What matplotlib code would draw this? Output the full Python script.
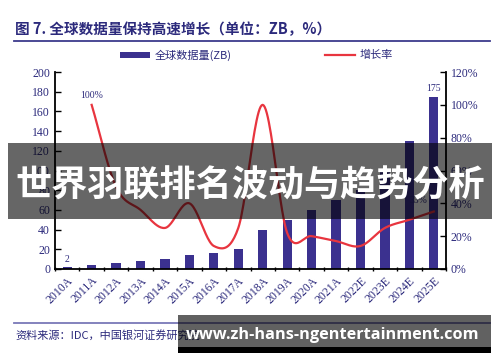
import numpy as np
import matplotlib.pyplot as plt
from matplotlib.patches import Rectangle
from matplotlib.lines import Line2D

plt.rcParams['font.family'] = ['Noto Sans CJK SC', 'DejaVu Sans']

years = ['2010A', '2011A', '2012A', '2013A', '2014A', '2015A', '2016A', '2017A',
         '2018A', '2019A', '2020A', '2021A', '2022E', '2023E', '2024E', '2025E']
volume = [2, 4, 6, 8, 10, 14, 16, 20, 40, 50, 60, 70, 80, 100, 130, 175]
growth = [None, 1.00, 0.50, 0.36, 0.25, 0.40, 0.14, 0.25, 1.00, 0.22, 0.20, 0.17, 0.14, 0.25, 0.30, 0.35]

left_ticks = [0, 20, 40, 60, 80, 100, 120, 140, 160, 180, 200]
right_ticks = [0, 0.2, 0.4, 0.6, 0.8, 1.0, 1.2]
right_labels = ['0%', '20%', '40%', '60%', '80%', '100%', '120%']

title = '图 7. 全球数据量保持高速增长（单位：ZB，%）'
source = '资料来源：IDC，中国银河证券研究院'
banner = '世界羽联排名波动与趋势分析'
watermark = 'www.zh-hans-ngentertainment.com'

NAVY = '#2c2a7c'
BAR = '#3b318f'
RED = '#e8353f'
SERIF = 'Liberation Serif'


def smooth(xs, ys, n=24):
    # Catmull-Rom curve through the points, like Excel's smoothed line
    xs = np.asarray(xs, float)
    ys = np.asarray(ys, float)
    px = np.concatenate([[2 * xs[0] - xs[1]], xs, [2 * xs[-1] - xs[-2]]])
    py = np.concatenate([[2 * ys[0] - ys[1]], ys, [2 * ys[-1] - ys[-2]]])
    ox, oy = [], []
    t = np.linspace(0, 1, n, endpoint=False)
    for i in range(1, len(px) - 2):
        for p, out in ((px, ox), (py, oy)):
            p0, p1, p2, p3 = p[i - 1], p[i], p[i + 1], p[i + 2]
            out.extend(0.5 * (2 * p1 + (-p0 + p2) * t
                              + (2 * p0 - 5 * p1 + 4 * p2 - p3) * t ** 2
                              + (-p0 + 3 * p1 - 3 * p2 + p3) * t ** 3))
    ox.append(xs[-1])
    oy.append(ys[-1])
    return np.array(ox), np.array(oy)


fig = plt.figure(figsize=(5, 3.62), dpi=100)
ax = fig.add_axes([0.11, 0.257, 0.782, 0.544])
x = np.arange(len(years))

ax.bar(x, volume, width=0.38, color=BAR, zorder=2)
ax.set_xlim(-0.5, len(years) - 0.5)
ax.set_ylim(0, 200)
ax.set_yticks(left_ticks)
ax.set_xticks(x)
ax.set_xticklabels(years, rotation=45, ha='right', rotation_mode='anchor',
                   fontsize=8.5, color=NAVY, family=SERIF)
ax.set_xticks(np.arange(-0.5, len(years)), minor=True)
ax.tick_params(axis='x', which='major', length=0, pad=4)
ax.tick_params(axis='x', which='minor', length=3, direction='inout', width=1)
ax.tick_params(axis='y', direction='in', length=4, width=1, labelsize=8.5, labelcolor=NAVY)
for lab in ax.get_yticklabels():
    lab.set_family(SERIF)
ax.spines['top'].set_visible(False)
ax.spines['right'].set_visible(False)
for s in ('left', 'bottom'):
    ax.spines[s].set_linewidth(1.3)

ax2 = ax.twinx()
gx = [i for i, g in enumerate(growth) if g is not None]
gy = [g for g in growth if g is not None]
sx, sy = smooth(gx, gy)
ax2.plot(sx, sy, color=RED, lw=1.6, zorder=3)
ax2.set_ylim(0, 1.2)
ax2.set_yticks(right_ticks)
ax2.set_yticklabels(right_labels, fontsize=8.5, color=NAVY, family=SERIF)
ax2.tick_params(axis='y', direction='in', length=4, width=1)
ax2.spines['top'].set_visible(False)
ax2.spines['left'].set_visible(False)
ax2.spines['right'].set_linewidth(1.3)
ax2.spines['bottom'].set_visible(False)

# data labels
ax.text(x[0], volume[0] + 3, str(volume[0]), ha='center', va='bottom',
        fontsize=7, color=NAVY, family=SERIF)
ax.text(x[-1], volume[-1] + 4, str(volume[-1]), ha='center', va='bottom',
        fontsize=7, color=NAVY, family=SERIF)
ax2.text(gx[0], gy[0] + 0.03, '{:.0%}'.format(gy[0]), ha='center', va='bottom',
         fontsize=7, color=NAVY, family=SERIF)
ax2.text(gx[-1] - 0.25, gy[-1] + 0.04, '{:.0%}'.format(gy[-1]), ha='right', va='bottom',
         fontsize=7, color=NAVY, family=SERIF)

# title, rules, legend
fig.text(0.03, 1 - 29 / 362, title, fontsize=10.5, fontweight='bold', color=NAVY, va='center')
fig.add_artist(Line2D([0.028, 0.98], [1 - 41 / 362] * 2, color='#3d3a8c', lw=1.3))
fig.add_artist(Rectangle((120 / 500, 1 - 57.5 / 362), 30 / 500, 5 / 362, color=BAR, lw=0))
fig.text(155 / 500, 1 - 55 / 362, '全球数据量(ZB)', fontsize=8, color=NAVY, va='center')
fig.add_artist(Line2D([325 / 500, 355 / 500], [1 - 55 / 362] * 2, color=RED, lw=1.6))
fig.text(360 / 500, 1 - 55 / 362, '增长率', fontsize=8, color=NAVY, va='center')
fig.add_artist(Line2D([0.028, 0.98], [1 - 323 / 362] * 2, color='#7a78b8', lw=1.3))
fig.text(0.03, 1 - 335 / 362, source, fontsize=8, color=NAVY, va='center', style='italic')

# overlay banner
fig.add_artist(Rectangle((8 / 500, 1 - 219 / 362), 484 / 500, 76 / 362,
                         color='black', alpha=0.6, lw=0, zorder=10))
fig.text(0.5, 1 - 186 / 362, banner, fontsize=26, fontweight='black', color='white',
         ha='center', va='center', zorder=11)

# watermark box with dark bottom strip
fig.add_artist(Rectangle((178 / 500, 1 - 347 / 362), 313 / 500, 32 / 362,
                         color='black', alpha=0.62, lw=0, zorder=10))
fig.add_artist(Rectangle((178 / 500, 1 - 353 / 362), 313 / 500, 6 / 362,
                         color='black', lw=0, zorder=10))
fig.text(333 / 500, 1 - 335 / 362, watermark, fontsize=11.7, fontweight='bold',
         color='white', ha='center', va='center', zorder=11, family='Open Sans')

fig.savefig('out.png', dpi=100)
